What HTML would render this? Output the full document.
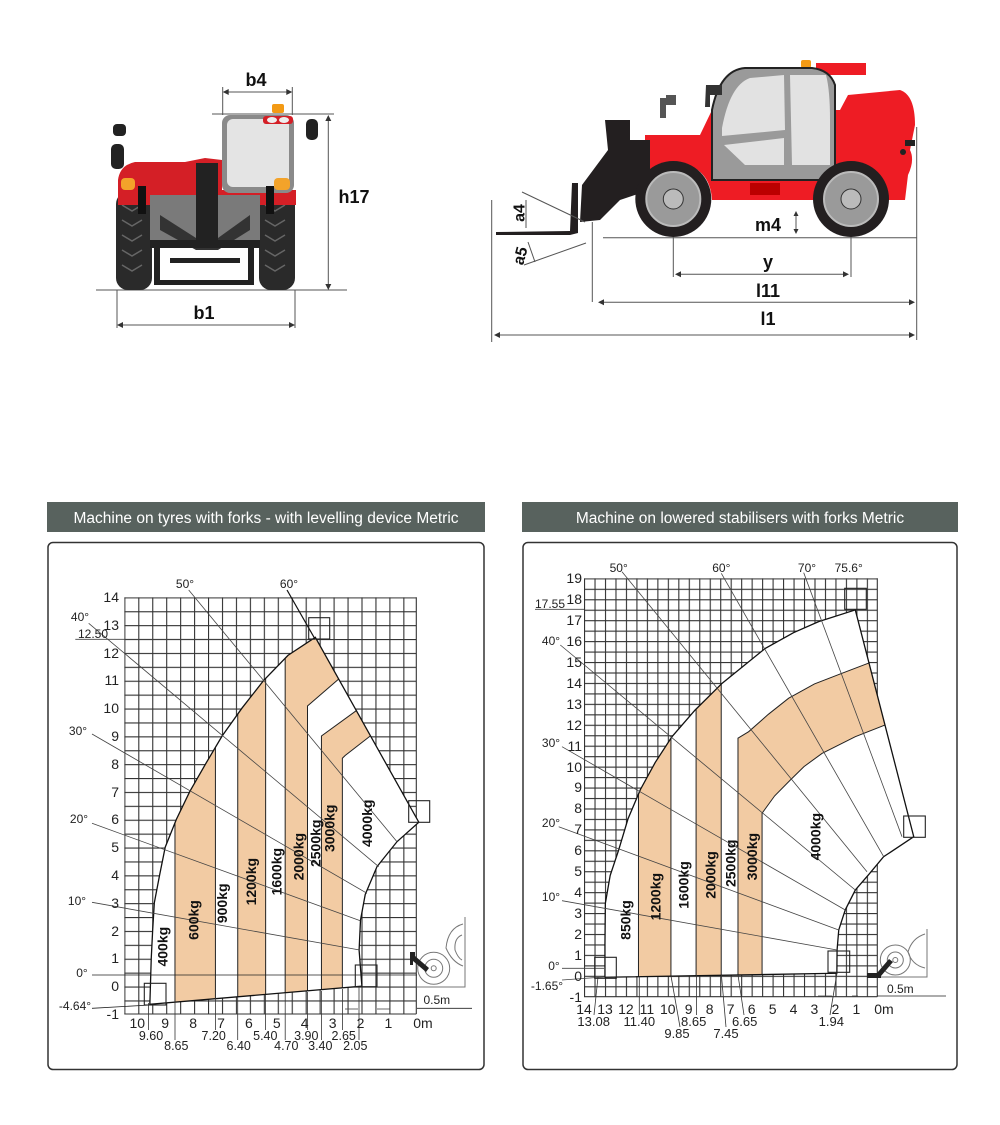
<!DOCTYPE html>
<html><head><meta charset="utf-8"><style>
html,body{margin:0;padding:0;background:#fff;}
svg{display:block;}
text{font-family:"Liberation Sans",sans-serif;}
.ax{font-size:14px;fill:#222;}
.an{font-size:12px;fill:#222;}
.bl{font-size:14px;font-weight:bold;fill:#111;}
.dm{font-size:18px;font-weight:bold;fill:#111;}
</style></head><body>
<svg width="1000" height="1125" viewBox="0 0 1000 1125" xmlns="http://www.w3.org/2000/svg">
<defs>
<pattern id="gL" patternUnits="userSpaceOnUse" x="124.3" y="597.3" width="13.95" height="13.9"><path d="M0 0H13.95M0 0V13.9" stroke="#333" stroke-width="2.2" fill="none"/></pattern>
<pattern id="gR" patternUnits="userSpaceOnUse" x="584" y="578.3" width="10.475" height="10.46"><path d="M0 0H10.475M0 0V10.46" stroke="#333" stroke-width="2.2" fill="none"/></pattern>
<clipPath id="cL" clipPathUnits="userSpaceOnUse"><path transform="translate(416.3,986.2) scale(-27.9,-27.8)" d="M9.55,-0.65 L9.5,1 L9.45,2 L9.39,3 L9.2,4 L9.0,5 L8.6,6 L8.12,7 L7.55,8 L6.96,9 L6.25,10 L5.47,11 L4.6,11.9 L3.62,12.55 L-0.09,5.9 L0.69,5.2 L1.41,4.3 L1.83,3.3 L2.0,2.38 L2.05,1.3 L1.95,0 Z"/></clipPath>
<clipPath id="cR" clipPathUnits="userSpaceOnUse"><path transform="translate(877.3,975.8) scale(-20.95,-20.92)" d="M13.0,-0.07 L13.0,1.5 L12.98,3.47 L12.75,4.8 L12.35,6.0 L11.9,7.5 L11.31,8.9 L10.6,10.2 L9.8,11.43 L8.7,12.7 L7.41,13.98 L5.35,15.65 L4.0,16.4 L2.8,16.93 L1.05,17.49 L-1.74,6.65 L-0.3,5.69 L0.4,4.85 L1.05,4.1 L1.53,3.15 L1.84,2.19 L1.92,1.23 L1.93,0.12 Z"/></clipPath>
</defs>

<!-- ================= FRONT VIEW ================= -->
<g>
<line x1="96" y1="290" x2="347" y2="290" stroke="#555" stroke-width="1"/>
<rect x="116" y="192" width="36" height="98" rx="12" fill="#2a2a2a"/>
<rect x="259" y="192" width="36" height="98" rx="12" fill="#2a2a2a"/>
<g stroke="#666" stroke-width="1.5" fill="none">
<path d="M122 205l10 6 10-6M122 220l10 6 10-6M122 235l10 6 10-6M122 250l10 6 10-6M122 265l10 6 10-6"/>
<path d="M265 205l10 6 10-6M265 220l10 6 10-6M265 235l10 6 10-6M265 250l10 6 10-6M265 265l10 6 10-6"/>
</g>
<path d="M118 180 Q120 165 135 162 L185 162 L205 158 L222 160 L222 190 L296 190 L296 205 L118 205 Z" fill="#d41f26"/>
<rect x="150" y="195" width="110" height="45" fill="#7a7a7a"/>
<path d="M160 215 L196 238 L218 238 L250 215 L250 230 L218 250 L196 250 L160 230 Z" fill="#333"/>
<rect x="196" y="163" width="22" height="80" fill="#222"/>
<rect x="150" y="240" width="110" height="8" fill="#222"/>
<rect x="154" y="242" width="6" height="43" fill="#222"/><rect x="248" y="242" width="6" height="43" fill="#222"/>
<rect x="156" y="280" width="98" height="5" fill="#222"/>
<rect x="170" y="258" width="70" height="5" fill="#222"/>
<rect x="222" y="115" width="72" height="78" rx="8" fill="#8a8a8a"/>
<rect x="227" y="119" width="62" height="68" rx="6" fill="#e4e4e4"/>
<rect x="263" y="116" width="30" height="8" rx="3" fill="#d41f26"/>
<ellipse cx="272" cy="120" rx="5" ry="3" fill="#eee"/><ellipse cx="284" cy="120" rx="5" ry="3" fill="#eee"/>
<rect x="272" y="104" width="12" height="9" rx="2" fill="#f39a14"/>
<rect x="113" y="124" width="13" height="12" rx="4" fill="#222"/>
<rect x="111" y="144" width="13" height="25" rx="5" fill="#222"/>
<rect x="306" y="119" width="12" height="21" rx="5" fill="#222"/>
<rect x="121" y="178" width="14" height="12" rx="4" fill="#f3a32a"/>
<rect x="274" y="178" width="16" height="12" rx="4" fill="#f3a32a"/>
<rect x="138" y="186" width="8" height="28" fill="#111"/><rect x="266" y="186" width="8" height="28" fill="#111"/>
<g stroke="#555" stroke-width="1" fill="none">
<line x1="222.7" y1="87" x2="222.7" y2="115"/><line x1="292.3" y1="87" x2="292.3" y2="115"/>
<line x1="224" y1="92" x2="291" y2="92"/>
<line x1="212" y1="114" x2="334" y2="114"/>
<line x1="328.3" y1="117" x2="328.3" y2="288"/>
<line x1="117" y1="290" x2="117" y2="328"/><line x1="295" y1="290" x2="295" y2="328"/>
<line x1="119" y1="325" x2="293" y2="325"/>
</g>
<g fill="#333"><path d="M222.7 92l6-3v6z M292.3 92l-6-3v6z M328.3 115l-3 6h6z M328.3 290l-3-6h6z M117 325l6-3v6z M295 325l-6-3v6z"/></g>
<text class="dm" x="256" y="86" text-anchor="middle">b4</text>
<text class="dm" x="354" y="203" text-anchor="middle">h17</text>
<text class="dm" x="204" y="319" text-anchor="middle">b1</text>
</g>

<!-- ================= SIDE VIEW ================= -->
<g>
<line x1="603" y1="237.7" x2="917" y2="237.7" stroke="#555"/>
<path d="M645 135 L700 135 L712 110 L840 110 L848 95 L900 90 Q915 95 915 125 L910 150 Q915 160 908 175 L905 200 L880 200 Q880 170 851 165 Q820 165 818 200 L712 200 Q710 165 673 162 Q640 165 640 200 L645 200 Z" fill="#ee1c24"/>
<rect x="816" y="63" width="50" height="12" fill="#ee1c24"/>
<rect x="801" y="60" width="10" height="8" rx="2" fill="#f39a14"/>
<path d="M712 180 L712 110 Q720 70 745 68 L812 68 Q830 70 835 85 L835 180 Z" fill="#9a9a9a" stroke="#222" stroke-width="2"/>
<path d="M722 128 Q730 85 750 78 L784 75 L785 130 L722 136 Z" fill="#e2e2e2"/>
<path d="M724 145 L784 138 L784 165 L745 165 Z" fill="#e2e2e2"/>
<path d="M790 75 L826 75 Q830 90 830 120 L830 165 L792 165 Z" fill="#e2e2e2"/>
<rect x="750" y="183" width="30" height="12" fill="#b00"/>
<path d="M605 120 L630 120 L630 140 L650 140 L650 190 L620 200 L600 220 L580 222 L582 185 L608 150 Z" fill="#231f20"/>
<path d="M572 183 L578 183 L578 233 L570 235 L496 235 L496 232 L570 231 Z" fill="#231f20"/>
<path d="M660 98 l6 0 0 20 -6 0z M666 95 l10 0 0 10 -10 0z" fill="#555"/>
<path d="M706 85 L722 85 L722 95 L710 95 L710 107 L705 107 Z" fill="#333"/>
<circle cx="673.3" cy="199" r="38" fill="#231f20"/>
<circle cx="673.3" cy="199" r="27" fill="#9a9a9a" stroke="#bbb" stroke-width="2"/>
<circle cx="673.3" cy="199" r="10" fill="#bbb" stroke="#333"/>
<circle cx="851" cy="199" r="38" fill="#231f20"/>
<circle cx="851" cy="199" r="27" fill="#9a9a9a" stroke="#bbb" stroke-width="2"/>
<circle cx="851" cy="199" r="10" fill="#bbb" stroke="#333"/>
<circle cx="903" cy="152" r="3" fill="#222"/><rect x="905" y="140" width="10" height="6" fill="#222"/>
<g stroke="#555" stroke-width="1" fill="none">
<line x1="916.7" y1="127" x2="916.7" y2="340"/>
<line x1="491.7" y1="200" x2="491.7" y2="342"/>
<line x1="592.3" y1="222" x2="592.3" y2="302"/>
<line x1="673.3" y1="237" x2="673.3" y2="277"/><line x1="851" y1="237" x2="851" y2="277"/>
<line x1="677" y1="274.3" x2="847" y2="274.3"/>
<line x1="600" y1="302.3" x2="913" y2="302.3"/>
<line x1="497" y1="335" x2="913" y2="335"/>
<line x1="522" y1="192" x2="585" y2="222"/>
<line x1="524" y1="265" x2="586" y2="243"/>
<line x1="526" y1="200" x2="526" y2="228"/>
<line x1="528" y1="242" x2="535" y2="262"/>
<line x1="796" y1="213" x2="796" y2="232"/>
</g>
<g fill="#333"><path d="M675 274.3l6-3v6z M849 274.3l-6-3v6z M598 302.3l6-3v6z M915 302.3l-6-3v6z M494 335l6-3v6z M915 335l-6-3v6z M796 211l-2.5 5h5z M796 234l-2.5-5h5z"/></g>
<text class="dm" x="768" y="268" text-anchor="middle">y</text>
<text class="dm" x="768" y="297" text-anchor="middle">l11</text>
<text class="dm" x="768" y="325" text-anchor="middle">l1</text>
<text class="dm" x="768" y="231" text-anchor="middle">m4</text>
<text class="dm" transform="translate(520,213) rotate(-90)" text-anchor="middle" dominant-baseline="central" style="font-size:16px">a4</text>
<text class="dm" transform="translate(521,256) rotate(-75)" text-anchor="middle" dominant-baseline="central" style="font-size:16px">a5</text>
</g>

<!-- ================= HEADERS & BOXES ================= -->
<rect x="47" y="502" width="438" height="30" fill="#58625e"/>
<text x="266" y="523" text-anchor="middle" style="font-size:15.5px;fill:#fff">Machine on tyres with forks - with levelling device Metric</text>
<rect x="522" y="502" width="436" height="30" fill="#58625e"/>
<text x="740" y="523" text-anchor="middle" style="font-size:15.5px;fill:#fff">Machine on lowered stabilisers with forks Metric</text>
<rect x="48" y="542.5" width="436" height="527" rx="5" fill="none" stroke="#333" stroke-width="1.5"/>
<rect x="523" y="542.5" width="434" height="527" rx="5" fill="none" stroke="#333" stroke-width="1.5"/>

<!-- ================= LEFT CHART ================= -->
<rect x="124.3" y="597.3" width="292" height="416.7" fill="url(#gL)"/>
<line x1="416.3" y1="597.3" x2="416.3" y2="1014" stroke="#333" stroke-width="1.1"/>
<line x1="124.3" y1="1014" x2="416.3" y2="1014" stroke="#333" stroke-width="1.1"/>
<path transform="translate(416.3,986.2) scale(-27.9,-27.8)" fill="#fff" d="M9.55,-0.65 L9.5,1 L9.45,2 L9.39,3 L9.2,4 L9.0,5 L8.6,6 L8.12,7 L7.55,8 L6.96,9 L6.25,10 L5.47,11 L4.6,11.9 L3.62,12.55 L-0.09,5.9 L0.69,5.2 L1.41,4.3 L1.83,3.3 L2.0,2.38 L2.05,1.3 L1.95,0 Z"/>
<g clip-path="url(#cL)">
<g transform="translate(416.3,986.2) scale(-27.9,-27.8)">
<g fill="#f2cba3">
<rect x="7.20" y="-2" width="1.45" height="16"/>
<rect x="5.40" y="-2" width="1.0" height="16"/>
<path d="M4.70,-2 L4.70,14 L1.5,14 L2.78,11.05 L3.90,10.08 L3.90,-2 Z"/>
<path d="M3.40,-2 L3.40,9.0 L2.14,9.92 L1.0,11 L0.5,9.5 L1.65,9.0 L2.55,8.3 L2.65,8.2 L2.65,-2 Z"/>
</g>
<path vector-effect="non-scaling-stroke" stroke="#222" stroke-width="1" fill="none" d="M8.65,-2V14M7.20,-2V14M6.40,-2V14M5.40,-2V14M4.70,-2V14M2.78,11.05L3.90,10.08V-2M3.40,-2V9.0L2.14,9.92M1.65,9.0L2.55,8.3L2.65,8.2V-2"/>
</g>
</g>
<path transform="translate(416.3,986.2) scale(-27.9,-27.8)" fill="none" stroke="#111" stroke-width="1.3" vector-effect="non-scaling-stroke" d="M9.55,-0.65 L9.5,1 L9.45,2 L9.39,3 L9.2,4 L9.0,5 L8.6,6 L8.12,7 L7.55,8 L6.96,9 L6.25,10 L5.47,11 L4.6,11.9 L3.62,12.55 L-0.09,5.9 L0.69,5.2 L1.41,4.3 L1.83,3.3 L2.0,2.38 L2.05,1.3 L1.95,0 Z"/>
<g stroke="#333" stroke-width="0.8">
<line x1="148.5" y1="1003" x2="148.5" y2="1030"/>
<line x1="175" y1="1001" x2="175" y2="1040"/>
<line x1="215.4" y1="998" x2="215.4" y2="1030"/>
<line x1="237.7" y1="997" x2="237.7" y2="1040"/>
<line x1="265.6" y1="995" x2="265.6" y2="1030"/>
<line x1="285.2" y1="993" x2="285.2" y2="1040"/>
<line x1="307.5" y1="992" x2="307.5" y2="1030"/>
<line x1="321.4" y1="991" x2="321.4" y2="1040"/>
<line x1="342.4" y1="989" x2="342.4" y2="1030"/>
<line x1="359" y1="987" x2="359" y2="1040"/>
</g>
<g stroke="#444" stroke-width="0.8">
<line x1="188.7" y1="590" x2="397" y2="841.7"/>
<line x1="287" y1="590" x2="315" y2="639" stroke="#111" stroke-width="1.2"/>
<line x1="88.7" y1="623.3" x2="378.7" y2="866.7"/>
<line x1="75.3" y1="639.3" x2="315" y2="639.3"/>
<line x1="92" y1="734" x2="367" y2="893.3"/>
<line x1="92" y1="823.3" x2="360.3" y2="920.7"/>
<line x1="92" y1="902.3" x2="359.7" y2="950"/>
<line x1="92" y1="975" x2="417" y2="975" stroke="#222"/>
<line x1="92" y1="1008.3" x2="150" y2="1005" stroke="#222"/>
<line x1="417" y1="1008.3" x2="472" y2="1008.3" stroke="#222"/>
<line x1="345" y1="1009" x2="358" y2="1009"/>
<line x1="377" y1="1009" x2="390" y2="1009"/>
</g>
<g fill="none" stroke="#222" stroke-width="1.1">
<rect x="308.7" y="617.7" width="21" height="21.3"/>
<rect x="408.7" y="800.7" width="21" height="21.6"/>
<rect x="355.3" y="965" width="21.7" height="21.7"/>
<rect x="144.3" y="983.3" width="21.7" height="21.7"/>
</g>
<g fill="none" stroke="#777" stroke-width="1">
<circle cx="433.7" cy="968.3" r="16"/><circle cx="433.7" cy="968.3" r="9"/><circle cx="433.7" cy="968.3" r="2.5"/>
<path d="M465 917 V987 H417"/>
<path d="M463 924 Q448 928 446 948 Q452 962 463 966"/>
<path d="M462 935 Q454 938 455 950 Q458 958 462 960"/>
</g>
<path d="M410 952 l5 0 0 4 14 12 -3 4 -13 -11 0 4 -3 0z" fill="#222"/>
<text class="an" x="423.5" y="1004">0.5m</text>
<g class="ax" text-anchor="end">
<text x="119" y="602">14</text><text x="119" y="630">13</text><text x="119" y="658">12</text><text x="119" y="685">11</text><text x="119" y="713">10</text><text x="119" y="741">9</text><text x="119" y="769">8</text><text x="119" y="797">7</text><text x="119" y="824">6</text><text x="119" y="852">5</text><text x="119" y="880">4</text><text x="119" y="908">3</text><text x="119" y="936">2</text><text x="119" y="963">1</text><text x="119" y="991">0</text><text x="119" y="1019">-1</text>
</g>
<g class="ax" text-anchor="middle">
<text x="137.3" y="1028">10</text><text x="165.2" y="1028">9</text><text x="193.1" y="1028">8</text><text x="221" y="1028">7</text><text x="248.9" y="1028">6</text><text x="276.8" y="1028">5</text><text x="304.7" y="1028">4</text><text x="332.6" y="1028">3</text><text x="360.5" y="1028">2</text><text x="388.4" y="1028">1</text><text x="423" y="1028">0m</text>
</g>
<g class="an" text-anchor="middle" style="font-size:12.5px">
<text x="151" y="1040">9.60</text><text x="213.7" y="1040">7.20</text><text x="265.3" y="1040">5.40</text><text x="306.3" y="1040">3.90</text><text x="343.7" y="1040">2.65</text>
<text x="176.3" y="1050">8.65</text><text x="238.7" y="1050">6.40</text><text x="286.3" y="1050">4.70</text><text x="320.3" y="1050">3.40</text><text x="355.3" y="1050">2.05</text>
</g>
<g class="an" text-anchor="middle">
<text x="185" y="588">50°</text><text x="289" y="588">60°</text><text x="80" y="621">40°</text><text x="93" y="638">12.50</text><text x="78" y="735">30°</text><text x="79" y="823">20°</text><text x="77" y="905">10°</text><text x="82" y="977">0°</text><text x="75" y="1010">-4.64°</text>
</g>
<g class="bl" text-anchor="middle" dominant-baseline="central">
<text transform="translate(162.7,946.7) rotate(-90)">400kg</text>
<text transform="translate(193.7,920) rotate(-90)">600kg</text>
<text transform="translate(222,903.3) rotate(-90)">900kg</text>
<text transform="translate(251,881.7) rotate(-90)">1200kg</text>
<text transform="translate(276.3,871.7) rotate(-90)">1600kg</text>
<text transform="translate(298.7,856.7) rotate(-90)">2000kg</text>
<text transform="translate(315.3,843.3) rotate(-90)">2500kg</text>
<text transform="translate(329.7,828.3) rotate(-90)">3000kg</text>
<text transform="translate(367,823.3) rotate(-90)">4000kg</text>
</g>

<!-- ================= RIGHT CHART ================= -->
<rect x="584" y="578.3" width="293.3" height="418.4" fill="url(#gR)"/>
<line x1="877.3" y1="578.3" x2="877.3" y2="996.7" stroke="#333" stroke-width="1.1"/>
<line x1="584" y1="996.7" x2="877.3" y2="996.7" stroke="#333" stroke-width="1.1"/>
<path transform="translate(877.3,975.8) scale(-20.95,-20.92)" fill="#fff" d="M13.0,-0.07 L13.0,1.5 L12.98,3.47 L12.75,4.8 L12.35,6.0 L11.9,7.5 L11.31,8.9 L10.6,10.2 L9.8,11.43 L8.7,12.7 L7.41,13.98 L5.35,15.65 L4.0,16.4 L2.8,16.93 L1.05,17.49 L-1.74,6.65 L-0.3,5.69 L0.4,4.85 L1.05,4.1 L1.53,3.15 L1.84,2.19 L1.92,1.23 L1.93,0.12 Z"/>
<g clip-path="url(#cR)">
<g transform="translate(877.3,975.8) scale(-20.95,-20.92)">
<g fill="#f2cba3">
<rect x="9.85" y="-1" width="1.55" height="20"/>
<rect x="7.45" y="-1" width="1.2" height="20"/>
<path d="M6.65,-1 L6.65,11.36 L6.14,11.67 L5.2,12.5 L4.23,13.27 L3.0,13.95 L1.69,14.46 L0.33,14.98 L-3,16 L-3,11 L-0.38,11.99 L1.05,11.43 L2.64,10.63 L3.5,10.0 L4.15,9.36 L4.9,8.6 L5.5,7.77 L5.5,-1 Z"/>
</g>
<path vector-effect="non-scaling-stroke" fill="none" stroke="#222" stroke-width="1" d="M11.40,-1V19M9.85,-1V19M8.65,-1V19M7.45,-1V19M6.65,-1V11.36L6.14,11.67L5.2,12.5L4.23,13.27L3.0,13.95L1.69,14.46L0.33,14.98L-1,15.5M-1,11.7L-0.38,11.99L1.05,11.43L2.64,10.63L3.5,10.0L4.15,9.36L4.9,8.6L5.5,7.77V-1"/>
</g>
</g>
<path transform="translate(877.3,975.8) scale(-20.95,-20.92)" fill="none" stroke="#111" stroke-width="1.3" vector-effect="non-scaling-stroke" d="M13.0,-0.07 L13.0,1.5 L12.98,3.47 L12.75,4.8 L12.35,6.0 L11.9,7.5 L11.31,8.9 L10.6,10.2 L9.8,11.43 L8.7,12.7 L7.41,13.98 L5.35,15.65 L4.0,16.4 L2.8,16.93 L1.05,17.49 L-1.74,6.65 L-0.3,5.69 L0.4,4.85 L1.05,4.1 L1.53,3.15 L1.84,2.19 L1.92,1.23 L1.93,0.12 Z"/>
<g stroke="#333" stroke-width="0.8">
<line x1="598" y1="977" x2="594" y2="1015"/>
<line x1="639.3" y1="976" x2="639.3" y2="1015"/>
<line x1="671" y1="976" x2="680" y2="1027"/>
<line x1="696.5" y1="975" x2="696.5" y2="1015"/>
<line x1="721.4" y1="975" x2="726" y2="1027"/>
<line x1="738" y1="975" x2="744" y2="1015"/>
<line x1="837" y1="973" x2="830" y2="1015"/>
</g>
<g stroke="#444" stroke-width="0.8">
<line x1="622" y1="571.7" x2="867" y2="871.7"/>
<line x1="721.3" y1="573.3" x2="883.7" y2="856.7"/>
<line x1="803.7" y1="572.7" x2="902" y2="836.7"/>
<line x1="560.3" y1="645" x2="855.3" y2="890"/>
<line x1="562" y1="746.7" x2="845.3" y2="910"/>
<line x1="558.7" y1="826.7" x2="838.7" y2="930"/>
<line x1="562" y1="900.7" x2="837" y2="950"/>
<line x1="562" y1="968.3" x2="604" y2="968.3"/>
<line x1="562" y1="980" x2="604" y2="977"/>
<line x1="535" y1="609.3" x2="584" y2="609.3"/>
<line x1="877" y1="996" x2="946" y2="996" stroke="#222"/>
<line x1="818" y1="996" x2="832" y2="996"/>
<line x1="852" y1="996" x2="858" y2="996"/>
</g>
<g fill="none" stroke="#222" stroke-width="1.1">
<rect x="844.7" y="588.3" width="21.6" height="21"/>
<rect x="903.7" y="816" width="21.6" height="21.3"/>
<rect x="828" y="951" width="21.7" height="21.3"/>
<rect x="594.7" y="957.3" width="21.6" height="21"/>
</g>
<g fill="none" stroke="#777" stroke-width="1">
<circle cx="895.3" cy="960" r="15"/><circle cx="895.3" cy="960" r="8"/><circle cx="895.3" cy="960" r="2.5"/>
<path d="M927 929 V977 H880"/>
<path d="M925 934 Q912 938 908 952 Q912 965 925 968"/>
</g>
<path d="M867 973 l10 0 12 -14 4 3 -12 14 0 2 -14 0z" fill="#222"/>
<text class="an" x="887" y="993">0.5m</text>
<g class="ax" text-anchor="end">
<text x="582" y="583">19</text><text x="582" y="604">18</text><text x="582" y="625">17</text><text x="582" y="646">16</text><text x="582" y="667">15</text><text x="582" y="688">14</text><text x="582" y="709">13</text><text x="582" y="730">12</text><text x="582" y="751">11</text><text x="582" y="772">10</text><text x="582" y="792">9</text><text x="582" y="813">8</text><text x="582" y="834">7</text><text x="582" y="855">6</text><text x="582" y="876">5</text><text x="582" y="897">4</text><text x="582" y="918">3</text><text x="582" y="939">2</text><text x="582" y="960">1</text><text x="582" y="981">0</text><text x="582" y="1002">-1</text>
</g>
<g class="ax" text-anchor="middle">
<text x="584" y="1014">14</text><text x="605" y="1014">13</text><text x="625.9" y="1014">12</text><text x="646.9" y="1014">11</text><text x="667.8" y="1014">10</text><text x="688.7" y="1014">9</text><text x="709.7" y="1014">8</text><text x="730.7" y="1014">7</text><text x="751.6" y="1014">6</text><text x="772.6" y="1014">5</text><text x="793.5" y="1014">4</text><text x="814.4" y="1014">3</text><text x="835.4" y="1014">2</text><text x="856.4" y="1014">1</text><text x="884" y="1014">0m</text>
</g>
<g class="ax" text-anchor="middle" style="font-size:13px">
<text x="593.7" y="1026">13.08</text><text x="639.3" y="1026">11.40</text><text x="693.7" y="1026">8.65</text><text x="744.7" y="1026">6.65</text><text x="831.3" y="1026">1.94</text>
<text x="677" y="1038">9.85</text><text x="726" y="1038">7.45</text>
</g>
<g class="an" text-anchor="middle">
<text x="618.7" y="572">50°</text><text x="721.3" y="572">60°</text><text x="807" y="572">70°</text><text x="848.7" y="572">75.6°</text><text x="550" y="608">17.55</text><text x="551" y="645">40°</text><text x="551" y="747">30°</text><text x="551" y="827">20°</text><text x="551" y="901">10°</text><text x="554" y="970">0°</text><text x="547" y="990">-1.65°</text>
</g>
<g class="bl" text-anchor="middle" dominant-baseline="central">
<text transform="translate(625.3,920) rotate(-90)">850kg</text>
<text transform="translate(655.3,896.7) rotate(-90)">1200kg</text>
<text transform="translate(683.7,885) rotate(-90)">1600kg</text>
<text transform="translate(710.3,875) rotate(-90)">2000kg</text>
<text transform="translate(730.3,863.3) rotate(-90)">2500kg</text>
<text transform="translate(752,856.7) rotate(-90)">3000kg</text>
<text transform="translate(815.3,836.7) rotate(-90)">4000kg</text>
</g>
</svg>
</body></html>
